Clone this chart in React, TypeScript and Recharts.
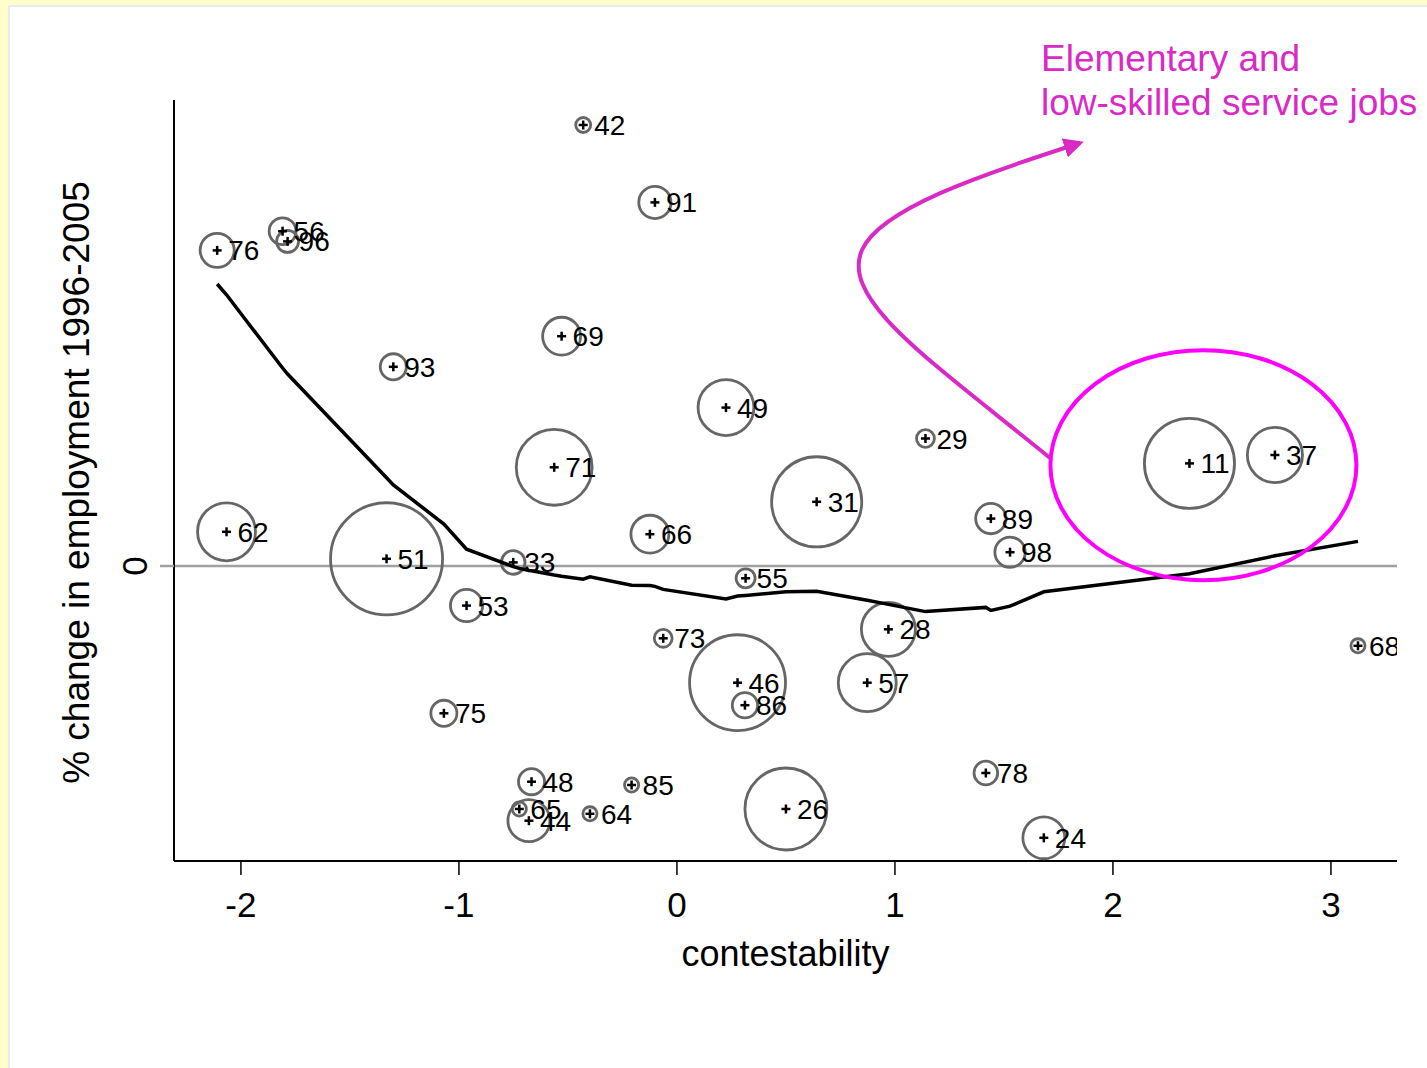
import { ScatterChart, Scatter, XAxis, YAxis, ReferenceLine, ReferenceDot } from 'recharts'

// occupation codes (ISCO) with contestability score, employment change and employment weight
const codes = [11, 24, 26, 28, 29, 31, 33, 37, 42, 44, 46, 48, 49, 51, 53, 55, 56, 57, 62, 64, 65, 66, 68, 69, 71, 73, 75, 76, 78, 85, 86, 89, 91, 93, 96, 98]
const contest = [2.351, 1.683, 0.5, 0.97, 1.14, 0.641, -0.751, 2.743, -0.43, -0.679, 0.278, -0.667, 0.225, -1.332, -0.965, 0.315, -1.809, 0.873, -2.066, -0.399, -0.723, -0.124, 3.124, -0.529, -0.563, -0.063, -1.069, -2.109, 1.417, -0.208, 0.312, 1.44, -0.101, -1.301, -1.786, 1.528]
const empChange = [17.1, -45.3, -40.5, -10.55, 21.25, 10.7, 0.6, 18.5, 73.5, -42.45, -19.45, -35.95, 26.4, 1.2, -6.6, -2.05, 55.8, -19.45, 5.7, -41.3, -40.5, 5.3, -13.3, 38.3, 16.45, -12.05, -24.55, 52.6, -34.5, -36.5, -23.2, 7.9, 60.6, 33.2, 54.1, 2.3]
const empWeight = [20.3, 4.4, 16.8, 7.3, 0.8, 20.3, 1.4, 7.6, 0.56, 4.4, 23, 1.7, 7.8, 31.4, 2.6, 0.9, 1.8, 8.4, 8.4, 0.5, 0.5, 3.6, 0.5, 3.6, 14.4, 0.8, 1.7, 2.9, 1.4, 0.5, 1.6, 2.3, 2.6, 1.7, 1.2, 2.3]
// lowess smoother evaluated at each occupation
const lowessFit = [-1.3, -4.3, -4.3, -6.4, -7.6, -4.2, -0.1, 1.7, -2.2, -0.75, -5.0, -0.8, -5.5, 14.7, 2.8, -4.9, 33.0, -5.7, 45.2, -1.8, -0.4, -3.25, 4.1, -1.7, -1.5, -3.9, 7.0, 47.0, -6.9, -3.2, -4.9, -7.4, -3.4, 13.5, 32.0, -6.7]

const xTicks = [-2, -1, 0, 1, 2, 3]
const yTicks = [0]

const FONT = '"Liberation Sans", Arial, Helvetica, sans-serif'
const MAGENTA = '#FF00FF'
const NOTE = '#DA2AC6'

const points = codes.map((code, i) => ({ code, x: contest[i], y: empChange[i], w: empWeight[i] }))
const lowess = codes
  .map((code, i) => ({ x: contest[i], y: lowessFit[i] }))
  .sort((a, b) => a.x - b.x)

function WeightCircle(props: any) {
  const { cx, cy, payload } = props
  const r = 10 * Math.sqrt(payload.w)
  return <circle cx={cx} cy={cy} r={r} fill="none" stroke="#666" strokeWidth={2.8} />
}

function CodeMarker(props: any) {
  const { cx, cy, payload } = props
  return (
    <g>
      <line x1={cx - 4.5} x2={cx + 4.5} y1={cy} y2={cy} stroke="#000" strokeWidth={2.5} />
      <line x1={cx} x2={cx} y1={cy - 4.5} y2={cy + 4.5} stroke="#000" strokeWidth={2.5} />
      <text x={cx + 11} y={cy + 10} fontSize={28} fontFamily={FONT} fill="#000">
        {payload.code}
      </text>
    </g>
  )
}

function YTick(props: any) {
  const { x, y, payload } = props
  return (
    <text x={x} y={y} transform={`rotate(-90 ${x} ${y})`} textAnchor="middle" fontSize={35} fontFamily={FONT} fill="#000">
      {payload.value}
    </text>
  )
}

export default function App() {
  return (
    <div style={{ position: 'relative', width: 1427, height: 1068, background: '#FFFFCC', overflow: 'hidden' }}>
      <style>{'body{margin:0}'}</style>
      <div
        style={{
          position: 'absolute',
          left: 8,
          top: 5,
          right: 0,
          bottom: 0,
          background: '#fff',
          borderLeft: '2px solid #E4EEEE',
          borderTop: '2px solid #E4EEEE',
        }}
      />
      <div style={{ position: 'absolute', left: 0, top: 0 }}>
        <ScatterChart width={1427} height={1068} margin={{ top: 100, right: 30, bottom: 0, left: 0 }}>
          <XAxis
            type="number"
            dataKey="x"
            domain={[-2.307, 3.303]}
            ticks={xTicks}
            allowDataOverflow
            height={207}
            tickSize={14}
            tickMargin={17}
            axisLine={{ stroke: '#000', strokeWidth: 2 }}
            tickLine={{ stroke: '#000', strokeWidth: 1.5 }}
            tick={{ fill: '#000', fontSize: 35, fontFamily: FONT }}
            label={{
              content: ({ viewBox }: any) => (
                <text x={viewBox.x + viewBox.width / 2} y={viewBox.y + 105} textAnchor="middle" fontSize={36} fontFamily={FONT} fill="#000">
                  contestability
                </text>
              ),
            }}
          />
          <YAxis
            type="number"
            dataKey="y"
            domain={[-49.167, 77.667]}
            ticks={yTicks}
            allowDataOverflow
            width={174}
            tickSize={14}
            tickMargin={13}
            axisLine={{ stroke: '#000', strokeWidth: 2 }}
            tickLine={{ stroke: '#A0A0A0', strokeWidth: 2.5 }}
            tick={<YTick />}
            label={{
              content: ({ viewBox }: any) => {
                const lx = 89
                const ly = viewBox.y + viewBox.height / 2 + 2
                return (
                  <text x={lx} y={ly} transform={`rotate(-90 ${lx} ${ly})`} textAnchor="middle" fontSize={37} fontFamily={FONT} fill="#000">
                    % change in employment 1996-2005
                  </text>
                )
              },
            }}
          />
          <ReferenceLine y={0} stroke="#A0A0A0" strokeWidth={2.5} />
          <Scatter data={points} shape={<WeightCircle />} isAnimationActive={false} />
          <Scatter
            data={lowess}
            shape={() => <g />}
            line={{ stroke: '#000', strokeWidth: 3.5 }}
            lineJointType="linear"
            isAnimationActive={false}
          />
          <Scatter data={points} shape={<CodeMarker />} isAnimationActive={false} />
          <ReferenceDot
            x={2.415}
            y={16.8}
            shape={(p: any) => <ellipse cx={p.cx} cy={p.cy} rx={153} ry={115} fill="none" stroke={MAGENTA} strokeWidth={4} />}
          />
        </ScatterChart>
      </div>
      <svg width={1427} height={1068} style={{ position: 'absolute', left: 0, top: 0, pointerEvents: 'none' }}>
        <defs>
          <marker id="head" viewBox="0 0 10 10" refX="8" refY="5" markerWidth="5" markerHeight="5" orient="auto">
            <path d="M0,0 L10,5 L0,10 z" fill={NOTE} />
          </marker>
        </defs>
        <path
          d="M1050,458 C930,360 840,300 862,250 C880,209 980,175 1080,143"
          fill="none"
          stroke={NOTE}
          strokeWidth={4}
          markerEnd="url(#head)"
        />
        <text x={1041} y={71} fontSize={37} fontFamily={FONT} fill={NOTE}>
          Elementary and
        </text>
        <text x={1041} y={115} fontSize={37} fontFamily={FONT} fill={NOTE}>
          low-skilled service jobs
        </text>
      </svg>
    </div>
  )
}
